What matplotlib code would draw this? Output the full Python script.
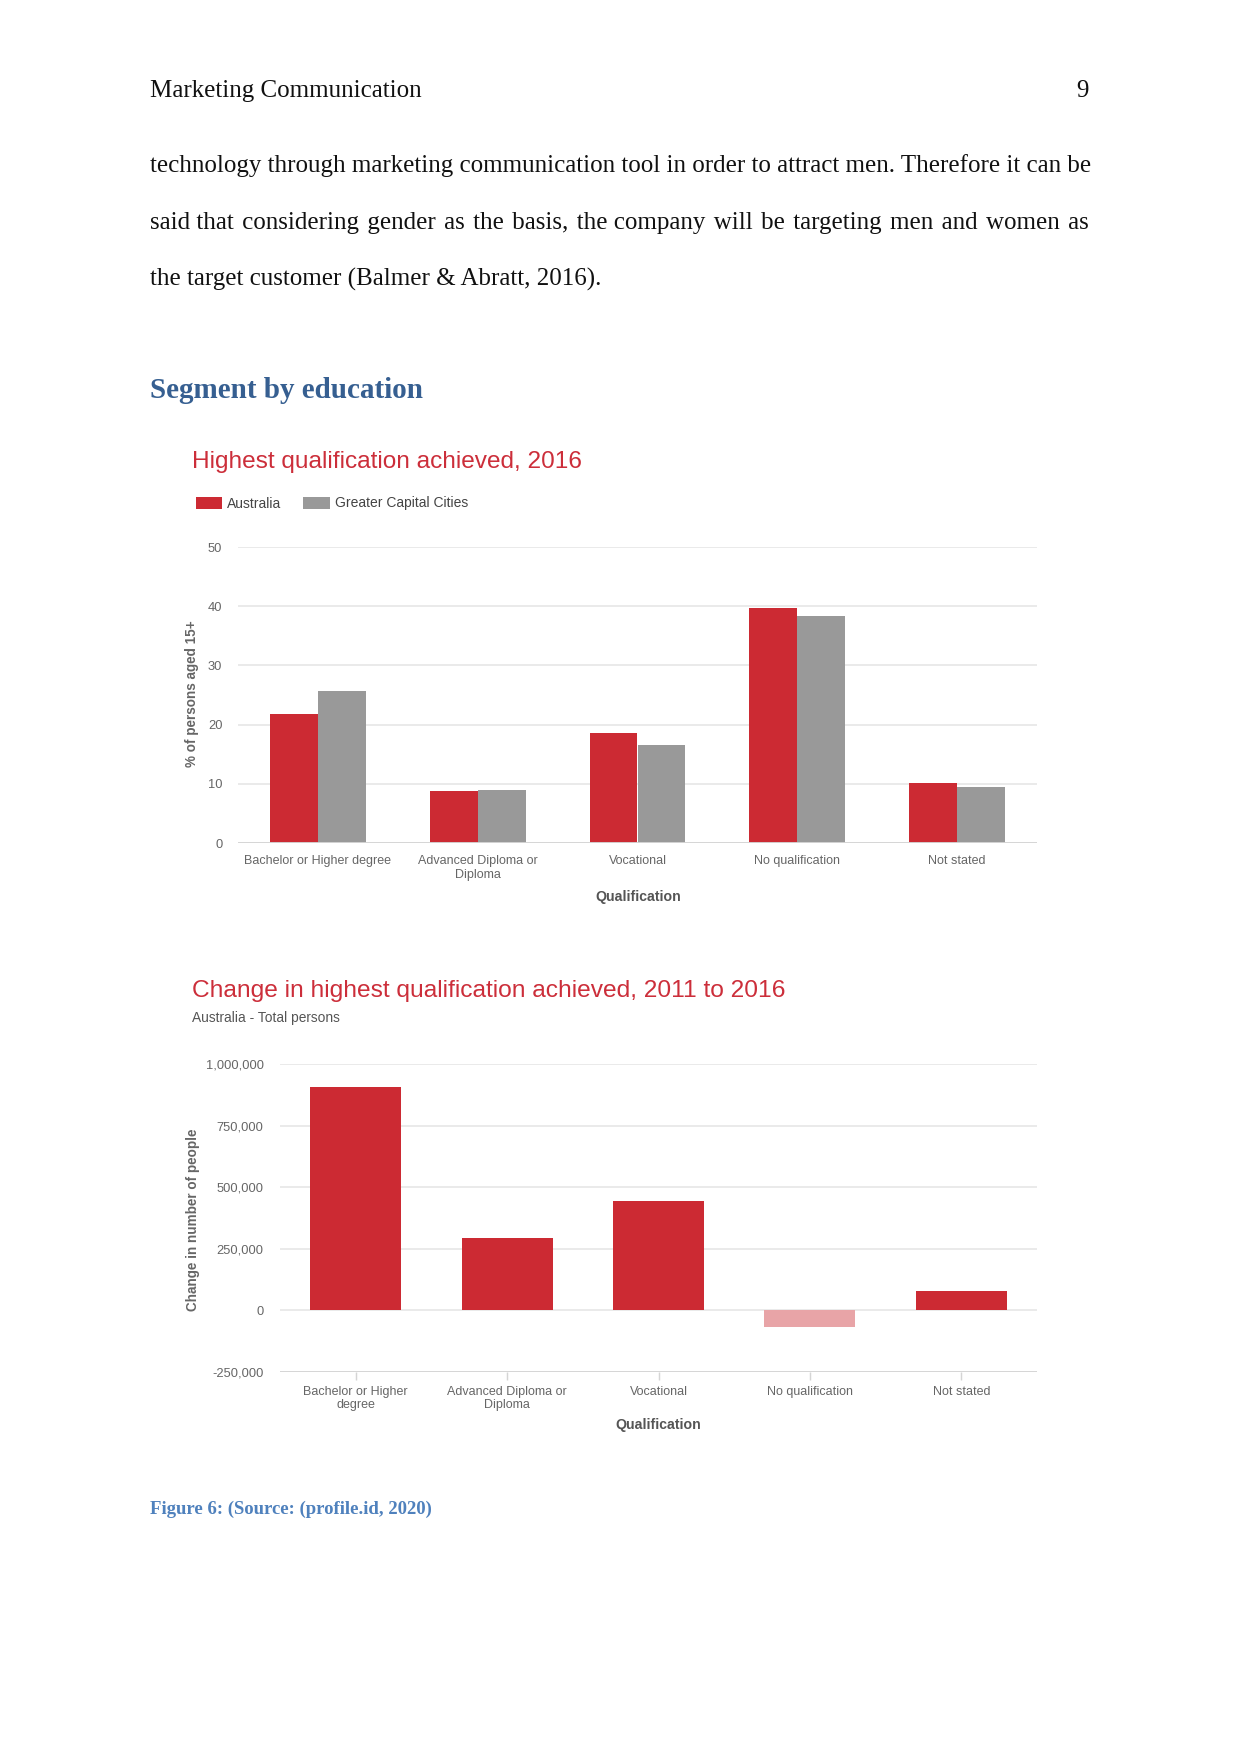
import numpy as np
import matplotlib
matplotlib.use("Agg")
import matplotlib.pyplot as plt
from matplotlib.patches import Rectangle

# ---------------- data ----------------
categories1 = ["Bachelor or Higher degree", "Advanced Diploma or\nDiploma", "Vocational",
               "No qualification", "Not stated"]
australia_pct = [21.8, 8.7, 18.6, 39.7, 10.2]
capital_pct = [25.6, 9.0, 16.6, 38.4, 9.4]
yticks1 = [0, 10, 20, 30, 40, 50]

categories2 = ["Bachelor or Higher\ndegree", "Advanced Diploma or\nDiploma", "Vocational",
               "No qualification", "Not stated"]
change_people = [906000, 292000, 444000, -66000, 80000]
yticks2 = [-250000, 0, 250000, 500000, 750000, 1000000]
ytick2_labels = ["-250,000", "0", "250,000", "500,000", "750,000", "1,000,000"]

header_left = "Marketing Communication"
page_no = "9"
body_lines = [
    "technology through marketing communication tool in order to attract men. Therefore it can be",
    "said that considering gender as the basis, the company will be targeting men and women as",
    "the target customer (Balmer & Abratt, 2016).",
]
heading = "Segment by education"
title1 = "Highest qualification achieved, 2016"
legend_labels = ["Australia", "Greater Capital Cities"]
title2 = "Change in highest qualification achieved, 2011 to 2016"
subtitle2 = "Australia - Total persons"
ylabel1 = "% of persons aged 15+"
ylabel2 = "Change in number of people"
xlabel = "Qualification"
caption = "Figure 6: (Source: (profile.id, 2020)"

# ---------------- styles ----------------
W, H = 1241, 1754
DPI = 150
RED = "#CC2A33"
GREY = "#999999"
PINK = "#E8A4A7"
TITLE_RED = "#CC2E3A"
TXT = "#666666"
GRID = "#E6E6E6"
SERIF = ["Liberation Serif", "DejaVu Serif"]
SANS = "Liberation Sans"
HAIR = "\u200a"

fig = plt.figure(figsize=(W / DPI, H / DPI), dpi=DPI)
fig.patch.set_facecolor("white")
renderer = fig.canvas.get_renderer()


def fx(x):
    return x / W


def fy(y):
    return 1 - y / H


def ftext(x, y, s, **kw):
    return fig.text(fx(x), fy(y), s, **kw)


def text_width(s, **kw):
    t = ftext(0, 0, s, **kw)
    w = t.get_window_extent(renderer).width
    t.remove()
    return w


# ---------------- page text ----------------
ftext(150, 97, header_left, fontsize=12, family=SERIF, va="baseline", ha="left", color="#111111")
ftext(1089, 97, page_no, fontsize=12, family=SERIF, va="baseline", ha="right", color="#111111")


def justified(line, x0, x1, y, justify=True, **kw):
    words = line.split(" ")
    s = line
    if justify and len(words) > 1:
        natural = text_width(line, **kw)
        hair = text_width("a" + HAIR * 10 + "b", **kw) - text_width("ab", **kw)
        hair /= 10.0
        extra = (x1 - x0) - natural
        if hair > 0.3 and extra > 0:
            n_gaps = len(words) - 1
            n_hair = int(round(extra / hair))
            parts = [words[0]]
            for i in range(n_gaps):
                k = (i + 1) * n_hair // n_gaps - i * n_hair // n_gaps
                parts.append(" " + HAIR * k + words[i + 1])
            s = "".join(parts)
    ftext(x0, y, s, va="baseline", ha="left", **kw)


body_y = [172, 229, 286]
for i, (line, y) in enumerate(zip(body_lines, body_y)):
    justified(line, 150, 1089, y, justify=(i < len(body_lines) - 1),
              fontsize=12, family=SERIF, color="#111111")

ftext(150, 398, heading, fontsize=14, family=SERIF, weight="bold", color="#365F91",
      va="baseline", ha="left")

# ---------------- chart 1 ----------------
ax1 = fig.add_axes([fx(238), fy(843), (1037 - 238) / W, (843 - 547) / H])
x = np.arange(len(categories1))
bw = 0.3
ax1.bar(x - bw / 2, australia_pct, bw, color=RED, zorder=3, linewidth=0)
ax1.bar(x + bw / 2, capital_pct, bw, color=GREY, zorder=3, linewidth=0)
ax1.set_xlim(-0.5, len(categories1) - 0.5)
ax1.set_ylim(0, 50)
ax1.set_yticks(yticks1)
ax1.set_yticklabels([str(v) for v in yticks1], fontsize=6.2, family=SANS, color=TXT)
ax1.set_xticks(x)
ax1.set_xticklabels(categories1, fontsize=6.0, family=SANS, color=TXT, linespacing=1.2)
ax1.tick_params(axis="y", length=0, pad=7.5)
ax1.tick_params(axis="x", length=0, pad=5.8)
ax1.yaxis.grid(True, color=GRID, linewidth=0.8, zorder=0)
for s in ax1.spines.values():
    s.set_visible(False)
ax1.axhline(0, color="#D5D5D5", linewidth=0.9, zorder=4)

ftext(192, 468, title1, fontsize=11.7, family=SANS, color=TITLE_RED, va="baseline", ha="left")
# legend
fig.patches.append(Rectangle((fx(196), fy(509)), 26 / W, 12 / H, transform=fig.transFigure,
                             facecolor=RED, edgecolor="none"))
ftext(227, 507.5, legend_labels[0], fontsize=6.7, family=SANS, color="#444444", va="baseline", ha="left")
fig.patches.append(Rectangle((fx(303), fy(509)), 27 / W, 12 / H, transform=fig.transFigure,
                             facecolor=GREY, edgecolor="none"))
ftext(335, 507.5, legend_labels[1], fontsize=6.7, family=SANS, color="#444444", va="baseline", ha="left")

ftext(192, 694, ylabel1, fontsize=6.5, family=SANS, weight="bold", color=TXT,
      rotation=90, va="center", ha="center")
ftext(638, 897, xlabel, fontsize=6.8, family=SANS, weight="bold", color="#555555",
      va="center", ha="center")

# ---------------- chart 2 ----------------
ax2 = fig.add_axes([fx(280), fy(1372), (1037 - 280) / W, (1372 - 1064) / H])
x2 = np.arange(len(categories2))
colors2 = [RED if v >= 0 else PINK for v in change_people]
ax2.bar(x2, change_people, 0.6, color=colors2, zorder=3, linewidth=0)
ax2.set_xlim(-0.5, len(categories2) - 0.5)
ax2.set_ylim(-250000, 1000000)
ax2.set_yticks(yticks2)
ax2.set_yticklabels(ytick2_labels, fontsize=6.2, family=SANS, color=TXT)
ax2.set_xticks(x2)
ax2.set_xticklabels(categories2, fontsize=6.0, family=SANS, color=TXT, linespacing=1.2)
ax2.tick_params(axis="y", length=0, pad=7.8)
ax2.tick_params(axis="x", length=4, width=0.7, color="#D5D5D5", pad=2.5)
ax2.yaxis.grid(True, color=GRID, linewidth=0.8, zorder=0)
for s in ax2.spines.values():
    s.set_visible(False)
ax2.axhline(-250000, color="#D5D5D5", linewidth=0.9, zorder=4)

ftext(192, 997, title2, fontsize=11.75, family=SANS, color=TITLE_RED, va="baseline", ha="left")
ftext(192, 1022, subtitle2, fontsize=6.6, family=SANS, color="#555555", va="baseline", ha="left")
ftext(193, 1220, ylabel2, fontsize=6.5, family=SANS, weight="bold", color=TXT,
      rotation=90, va="center", ha="center")
ftext(658, 1425, xlabel, fontsize=6.8, family=SANS, weight="bold", color="#555555",
      va="center", ha="center")

# ---------------- caption ----------------
ftext(150, 1514, caption, fontsize=9.0, family="Liberation Serif", weight="bold", color="#4F81BD",
      va="baseline", ha="left")

fig.savefig("out.png", dpi=DPI, facecolor="white")
